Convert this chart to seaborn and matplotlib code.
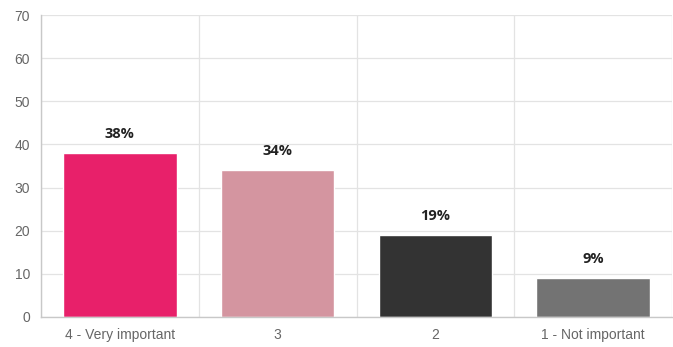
import matplotlib
matplotlib.use("Agg")
import matplotlib.pyplot as plt
import seaborn as sns
import pandas as pd
import numpy as np

categories = ["4 - Very important", "3", "2", "1 - Not important"]
values = [38, 34, 19, 9]
labels = ["38%", "34%", "19%", "9%"]
colors = ["#E8206A", "#D495A0", "#333333", "#737373"]

sns.set_style("white")
plt.rcParams["font.family"] = ["Liberation Sans", "DejaVu Sans"]

fig = plt.figure(figsize=(6.73, 3.47), dpi=100)
ax = fig.add_axes([41/673, 30/347, (672-41)/673, (317-15)/347])

df = pd.DataFrame({"cat": categories, "val": values})
sns.barplot(data=df, x="cat", y="val", hue="cat", palette=colors, legend=False,
            width=0.72, saturation=1, ax=ax)

ax.set_xlim(-0.5, 3.5)
ax.set_ylim(0, 70)
ax.set_yticks(range(0, 71, 10))
ax.set_xlabel("")
ax.set_ylabel("")

grid_c = "#e3e3e3"
ax.set_xticks([-0.5, 0.5, 1.5, 2.5, 3.5], minor=True)
ax.grid(True, axis="y", color=grid_c, linewidth=0.9)
ax.grid(True, axis="x", which="minor", color=grid_c, linewidth=0.9)
ax.grid(False, axis="x", which="major")
ax.set_axisbelow(True)

for s in ["top", "right"]:
    ax.spines[s].set_visible(False)
for s in ["left", "bottom"]:
    ax.spines[s].set_color("#c8c8c8")
    ax.spines[s].set_linewidth(1)

ax.tick_params(axis="y", length=6, width=0.9, color="#c8c8c8", labelcolor="#666666",
               labelsize=10, pad=2)
ax.tick_params(axis="x", which="major", length=0, labelcolor="#666666", labelsize=10, pad=8)
ax.tick_params(axis="x", which="minor", length=8, width=0.9, color="#c8c8c8")

for i, (v, t) in enumerate(zip(values, labels)):
    ax.annotate(t, xy=(i, v), xytext=(0, 9), textcoords="offset points",
                ha="center", va="bottom", fontsize=10.5, fontweight="bold",
                color="#222222", family=["Open Sans", "DejaVu Sans"])

fig.savefig("out.png", dpi=100)
